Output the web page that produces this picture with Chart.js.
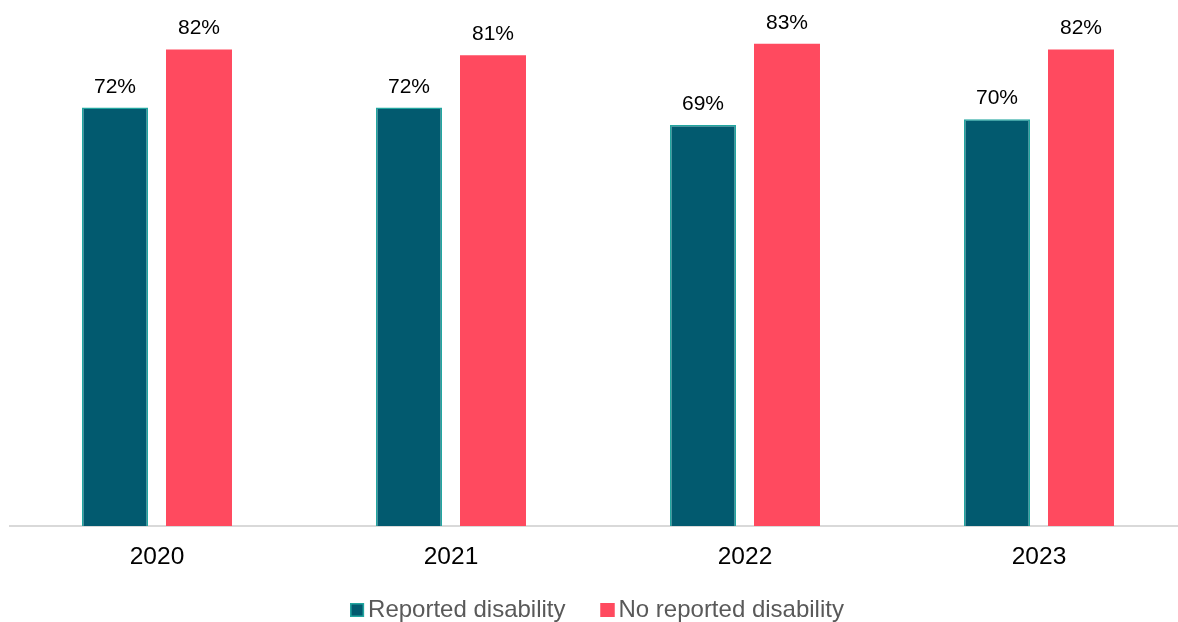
<!DOCTYPE html>
<html>
<head>
<meta charset="utf-8">
<script src="https://cdn.jsdelivr.net/npm/chart.js@4"></script>
<style>
  html, body { margin: 0; padding: 0; background: #ffffff; overflow: hidden; }
  #wrap { width: 1186px; height: 622px; position: relative; }
</style>
</head>
<body>
<div id="wrap"><canvas id="chart"></canvas></div>
<script>
// Share of people by year, split by disability status (percent)
const years = ['2020', '2021', '2022', '2023'];
const reportedDisability = [72, 72, 69, 70];
const noReportedDisability = [82, 81, 83, 82];
const seriesNames = ['Reported disability', 'No reported disability'];
const seriesFill = ['#025a6f', '#ff4a5f'];
const seriesEdge = ['#22a6a0', '#ff4a5f'];

const FONT = "'Liberation Sans', Arial, sans-serif";

// Percent labels drawn above each bar
const barValueLabels = {
  id: 'barValueLabels',
  afterDatasetsDraw(chart) {
    const ctx = chart.ctx;
    ctx.save();
    ctx.font = '21px ' + FONT;
    ctx.fillStyle = '#000000';
    ctx.textAlign = 'center';
    ctx.textBaseline = 'alphabetic';
    chart.data.datasets.forEach((ds, i) => {
      chart.getDatasetMeta(i).data.forEach((bar, j) => {
        ctx.fillText(ds.data[j] + '%', bar.x, bar.y - 15);
      });
    });
    ctx.restore();
  }
};

// Legend row under the axis: square swatch followed by the series name
const bottomLegend = {
  id: 'bottomLegend',
  afterDraw(chart) {
    const ctx = chart.ctx;
    const box = 14, textGap = 4, itemGap = 35, centerX = 597, baseY = 617;
    ctx.save();
    ctx.font = '24px ' + FONT;
    const widths = seriesNames.map(n => ctx.measureText(n).width);
    const total = widths.reduce((s, w) => s + box + textGap + w, 0) + itemGap * (seriesNames.length - 1);
    let x = centerX - total / 2;
    seriesNames.forEach((name, i) => {
      ctx.fillStyle = seriesFill[i];
      ctx.fillRect(x, baseY - box, box, box);
      ctx.strokeStyle = seriesEdge[i];
      ctx.lineWidth = 1.5;
      ctx.strokeRect(x + 0.75, baseY - box + 0.75, box - 1.5, box - 1.5);
      ctx.fillStyle = '#595959';
      ctx.textAlign = 'left';
      ctx.textBaseline = 'alphabetic';
      ctx.fillText(name, x + box + textGap, baseY);
      x += box + textGap + widths[i] + itemGap;
    });
    ctx.restore();
  }
};

new Chart(document.getElementById('chart'), {
  type: 'bar',
  data: {
    labels: years,
    datasets: [
      {
        label: seriesNames[0],
        data: reportedDisability,
        backgroundColor: seriesFill[0],
        borderColor: seriesEdge[0],
        borderWidth: 1.5,
        borderSkipped: 'bottom'
      },
      {
        label: seriesNames[1],
        data: noReportedDisability,
        backgroundColor: seriesFill[1],
        borderWidth: 0
      }
    ]
  },
  options: {
    responsive: true,
    maintainAspectRatio: false,
    animation: false,
    layout: { padding: { left: 10, right: 0, top: 3, bottom: 56 } },
    datasets: {
      bar: { categoryPercentage: 0.5714, barPercentage: 0.7857 }
    },
    scales: {
      x: {
        grid: { display: false },
        border: { display: true, color: '#d9d9d9', width: 2 },
        ticks: {
          color: '#000000',
          font: { family: FONT, size: 24.5 },
          padding: 9
        },
        afterFit(scale) { scale.height = 40; }
      },
      y: {
        display: false,
        min: 0,
        max: 90
      }
    },
    plugins: {
      legend: { display: false },
      tooltip: { enabled: false }
    }
  },
  plugins: [barValueLabels, bottomLegend]
});
</script>
</body>
</html>
